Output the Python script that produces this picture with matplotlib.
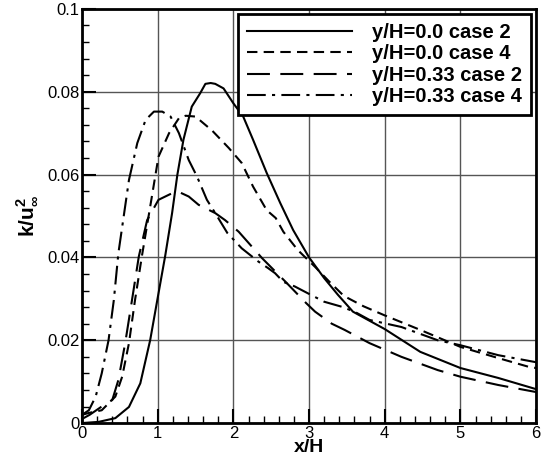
import matplotlib.pyplot as plt
from matplotlib.ticker import MultipleLocator, FuncFormatter

plt.rcParams['font.family'] = ['Liberation Sans', 'DejaVu Sans']
plt.rcParams['mathtext.fontset'] = 'custom'
plt.rcParams['mathtext.rm'] = 'Liberation Sans:bold'
plt.rcParams['mathtext.bf'] = 'Liberation Sans:bold'

# y/H=0.0 case 2 (solid)
x_a = [0.0, 0.22, 0.44, 0.62, 0.77, 0.9, 1.01, 1.1, 1.19, 1.26, 1.34, 1.45, 1.56, 1.63, 1.7, 1.76,
       1.87, 2.0, 2.13, 2.26, 2.44, 2.62, 2.79, 3.0, 3.2, 3.38, 3.58, 4.0, 4.47, 5.0, 5.5, 6.0]
k_a = [0.0, 0.0003, 0.0012, 0.0039, 0.0096, 0.020, 0.0313, 0.0405, 0.0507, 0.060, 0.0684, 0.0764,
       0.0796, 0.0819, 0.0821, 0.0819, 0.0808, 0.0772, 0.074, 0.0684, 0.0604, 0.0531, 0.0466,
       0.040, 0.035, 0.031, 0.0269, 0.0227, 0.0172, 0.0133, 0.0109, 0.0082]

# y/H=0.0 case 4 (dashed)
x_b = [0.0, 0.1, 0.26, 0.44, 0.53, 0.62, 0.70, 0.79, 0.90, 1.01, 1.15, 1.28, 1.37, 1.50, 1.72, 1.94,
       2.11, 2.26, 2.44, 2.56, 2.66, 2.85, 3.08, 3.27, 3.46, 3.72, 4.0, 4.47, 5.0, 5.5, 5.9, 6.0]
k_b = [0.002, 0.0025, 0.0031, 0.0064, 0.0112, 0.0193, 0.0297, 0.0402, 0.0522, 0.0643, 0.070,
       0.0736, 0.0742, 0.074, 0.0706, 0.0664, 0.0628, 0.0571, 0.0514, 0.0495, 0.0462, 0.0418,
       0.0377, 0.0341, 0.0307, 0.0282, 0.026, 0.0225, 0.0184, 0.0157, 0.0136, 0.0133]

# y/H=0.33 case 2 (long dash)
x_c = [0.0, 0.1, 0.26, 0.40, 0.48, 0.57, 0.66, 0.75, 0.86, 1.01, 1.19, 1.28, 1.41, 1.54, 1.76,
       1.89, 2.07, 2.38, 2.69, 2.96, 3.08, 3.30, 3.47, 3.8, 4.22, 4.7, 5.0, 5.5, 6.0]
k_c = [0.001, 0.002, 0.004, 0.0056, 0.0104, 0.0193, 0.0297, 0.0402, 0.049, 0.0539, 0.0555,
       0.0558, 0.0547, 0.0527, 0.0507, 0.049, 0.0462, 0.0398, 0.0341, 0.029, 0.0269, 0.024,
       0.0225, 0.0193, 0.016, 0.0128, 0.0112, 0.0092, 0.0075]

# y/H=0.33 case 4 (dash-dot)
x_d = [0.0, 0.09, 0.18, 0.26, 0.35, 0.42, 0.48, 0.62, 0.73, 0.84, 0.95, 1.06, 1.17, 1.28, 1.41,
       1.52, 1.65, 1.76, 1.92, 2.11, 2.22, 2.33, 2.46, 2.55, 2.66, 2.81, 3.03, 3.2, 3.43, 3.6,
       3.8, 4.22, 4.7, 5.0, 5.5, 6.0]
k_d = [0.002, 0.0031, 0.0064, 0.012, 0.020, 0.0297, 0.041, 0.0587, 0.0676, 0.0732, 0.0752,
       0.0752, 0.074, 0.070, 0.0635, 0.0595, 0.0539, 0.0507, 0.0459, 0.0422, 0.0406, 0.039,
       0.0374, 0.0362, 0.0341, 0.033, 0.0309, 0.0293, 0.0281, 0.0269, 0.0249, 0.0232, 0.020,
       0.0188, 0.0164, 0.0147]

labels = ['y/H=0.0 case 2', 'y/H=0.0 case 4', 'y/H=0.33 case 2', 'y/H=0.33 case 4']

fig = plt.figure(figsize=(5.47, 4.67), dpi=100)
ax = fig.add_axes([0.15, 0.094, 0.83, 0.887])

ax.plot(x_a, k_a, color='black', lw=1.5, linestyle='-', label=labels[0])
ax.plot(x_b, k_b, color='black', lw=1.5, linestyle=(0, (5, 3)), label=labels[1])
ax.plot(x_c, k_c, color='black', lw=1.5, linestyle=(0, (11, 5)), label=labels[2])
ax.plot(x_d, k_d, color='black', lw=1.5, linestyle=(0, (9, 3, 1.5, 3)), label=labels[3])

ax.set_xlim(0, 6)
ax.set_ylim(0, 0.1)
ax.xaxis.set_major_locator(MultipleLocator(1))
ax.xaxis.set_minor_locator(MultipleLocator(0.2))
ax.yaxis.set_major_locator(MultipleLocator(0.02))
ax.yaxis.set_minor_locator(MultipleLocator(0.004))
ax.yaxis.set_major_formatter(FuncFormatter(lambda v, p: '%g' % round(v, 3)))
ax.tick_params(which='major', direction='in', length=10, width=1.5, labelsize=12, pad=2)
ax.tick_params(which='minor', direction='in', length=5, width=1)
ax.grid(True, which='major', color='#555555', lw=1)
for s in ax.spines.values():
    s.set_linewidth(2)

ax.set_xlabel('x/H', fontsize=14, fontweight='bold', labelpad=-1)
ax.set_ylabel(r'k/u$^2_\infty$', fontsize=15, fontweight='bold', labelpad=6)

leg = ax.legend(loc='upper right', prop={'weight': 'bold', 'size': 14.5},
                handlelength=5.2, labelspacing=0.12, borderpad=0.45, handletextpad=1.0,
                fancybox=False, framealpha=1, edgecolor='black', borderaxespad=0.25)
leg.get_frame().set_linewidth(2)

fig.savefig('out.png', dpi=100)
